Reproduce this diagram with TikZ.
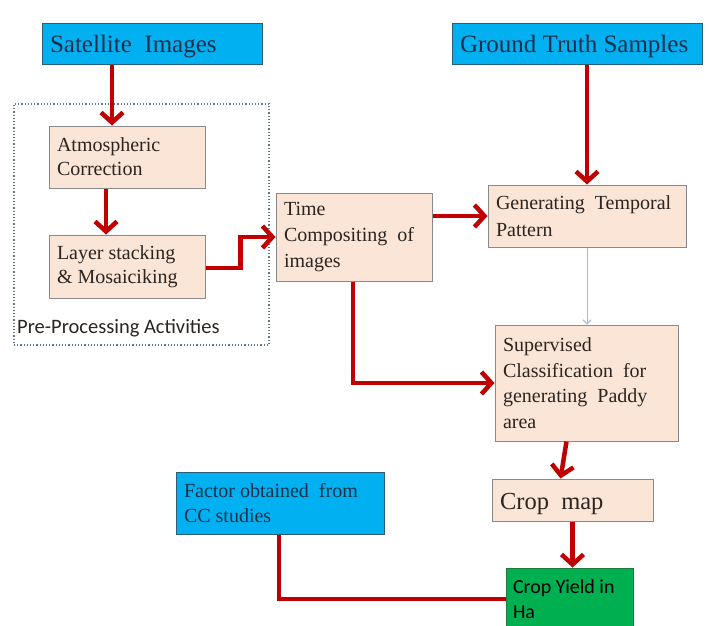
\documentclass[tikz,border=0pt]{standalone}
\usepackage{fontspec}
\setmainfont{Liberation Serif}
\newfontfamily\calib{Carlito}
\usetikzlibrary{arrows.meta}
\definecolor{cyanb}{HTML}{00B0F0}
\definecolor{cyanedge}{HTML}{2A5D78}
\definecolor{peach}{HTML}{FBE5D6}
\definecolor{peachedge}{HTML}{8A8A8A}
\definecolor{greenb}{HTML}{00B050}
\definecolor{greenedge}{HTML}{1E7B3C}
\definecolor{redarr}{HTML}{C00000}
\definecolor{navytext}{HTML}{1C2E4A}
\definecolor{darktext}{HTML}{2B2420}
\definecolor{dotcol}{HTML}{5A7894}
\definecolor{thinarr}{HTML}{A3BAD2}
\tikzset{
  box/.style={rectangle, inner xsep=8pt, inner ysep=0pt, align=flush left, line width=1pt},
  bluebox/.style={box, fill=cyanb, draw=cyanedge, text=navytext},
  peachbox/.style={box, fill=peach, draw=peachedge, text=darktext},
  greenbox/.style={box, fill=greenb, draw=greenedge, text=black},
  redarrow/.style={draw=redarr, line width=4.5pt, -{Straight Barb[length=10pt,width=22pt]}},
  redline/.style={draw=redarr, line width=4.5pt},
  thinarrow/.style={draw=thinarr, line width=1pt, -{Straight Barb[length=4pt,width=8pt]}}
}
\begin{document}
\begin{tikzpicture}[x=1pt,y=-1pt]
\useasboundingbox (0,0) rectangle (709,625);
% pre-processing frame
\node[draw=dotcol, dotted, line width=1.2pt, minimum width=255pt, minimum height=241pt, inner sep=0pt] (pre) at (141.5,224.5) {};
\node[anchor=base west, inner sep=0pt, text=darktext, font={\calib\fontsize{20.5}{24}\selectfont}] (prelabel) at (17,333) {Pre-Processing Activities};
% boxes
\node[bluebox, text width=204pt, minimum width=220pt, text height=29.7pt, text depth=11.3pt, font={\fontsize{25}{28}\selectfont}] (sat) at (152,43.5) {Satellite\ \ Images};
\node[bluebox, text width=234pt, minimum width=250pt, text height=29.7pt, text depth=11.3pt, font={\fontsize{25}{28}\selectfont}] (gts) at (577,43.5) {Ground Truth Samples};
\node[peachbox, text width=140pt, minimum width=156pt, minimum height=62pt, font={\fontsize{20}{24}\selectfont}] (atm) at (127,157) {Atmospheric\\Correction};
\node[peachbox, text width=140pt, minimum width=156pt, minimum height=63pt, font={\fontsize{20}{24}\selectfont}] (lay) at (127,266.5) {Layer stacking\\\& Mosaiciking};
\node[peachbox, text width=140pt, minimum width=156pt, minimum height=88pt, font={\fontsize{20}{26}\selectfont}] (time) at (354,237) {Time\\Compositing\ \ of\\images};
\node[peachbox, text width=182pt, minimum width=198pt, minimum height=62pt, font={\fontsize{20}{27}\selectfont}] (gen) at (587,216) {Generating\ \ Temporal\\Pattern};
\node[peachbox, text width=167pt, minimum width=183pt, minimum height=116pt, font={\fontsize{20}{25.5}\selectfont}] (sup) at (586.5,383) {Supervised\\Classification\ \ for\\generating\ \ Paddy\\area};
\node[bluebox, text width=192pt, minimum width=208pt, minimum height=62pt, font={\fontsize{20}{25}\selectfont}] (fac) at (280,503) {Factor obtained\ \ from\\CC studies};
\node[peachbox, text width=145pt, minimum width=161pt, text height=30pt, text depth=12pt, font={\fontsize{24.5}{28}\selectfont}] (crop) at (572.5,500) {Crop\ \ map};
\node[greenbox, inner xsep=7pt, text width=113pt, minimum width=127pt, minimum height=62pt, font={\calib\fontsize{20}{25}\selectfont}] (yield) at (569.5,599) {Crop Yield in\\Ha};
% connectors
\draw[redarrow] ([xshift=-40pt]sat.south) -- ([xshift=-15pt]atm.north);
\draw[redarrow] ([xshift=10pt]gts.south) -- (gen.north);
\draw[redarrow] ([xshift=-21pt]atm.south) -- ([xshift=-21pt]lay.north);
\draw[redarrow] ([yshift=-1.5pt]lay.east) -- ++(35,0) |- (time.west);
\draw[redarrow] (time.east |- gen.west) -- (gen.west);
\draw[thinarrow] (gen.south) -- (sup.north -| gen.south);
\draw[redarrow] ([xshift=-1pt]time.south) |- (sup.west);
\draw[redarrow] ([xshift=-20pt]sup.south) -- ([xshift=-12pt]crop.north);
\draw[redarrow] (crop.south) -- (crop.south |- yield.north);
\draw[redline] ([xshift=-1pt]fac.south) |- (yield.west);
\end{tikzpicture}
\end{document}
